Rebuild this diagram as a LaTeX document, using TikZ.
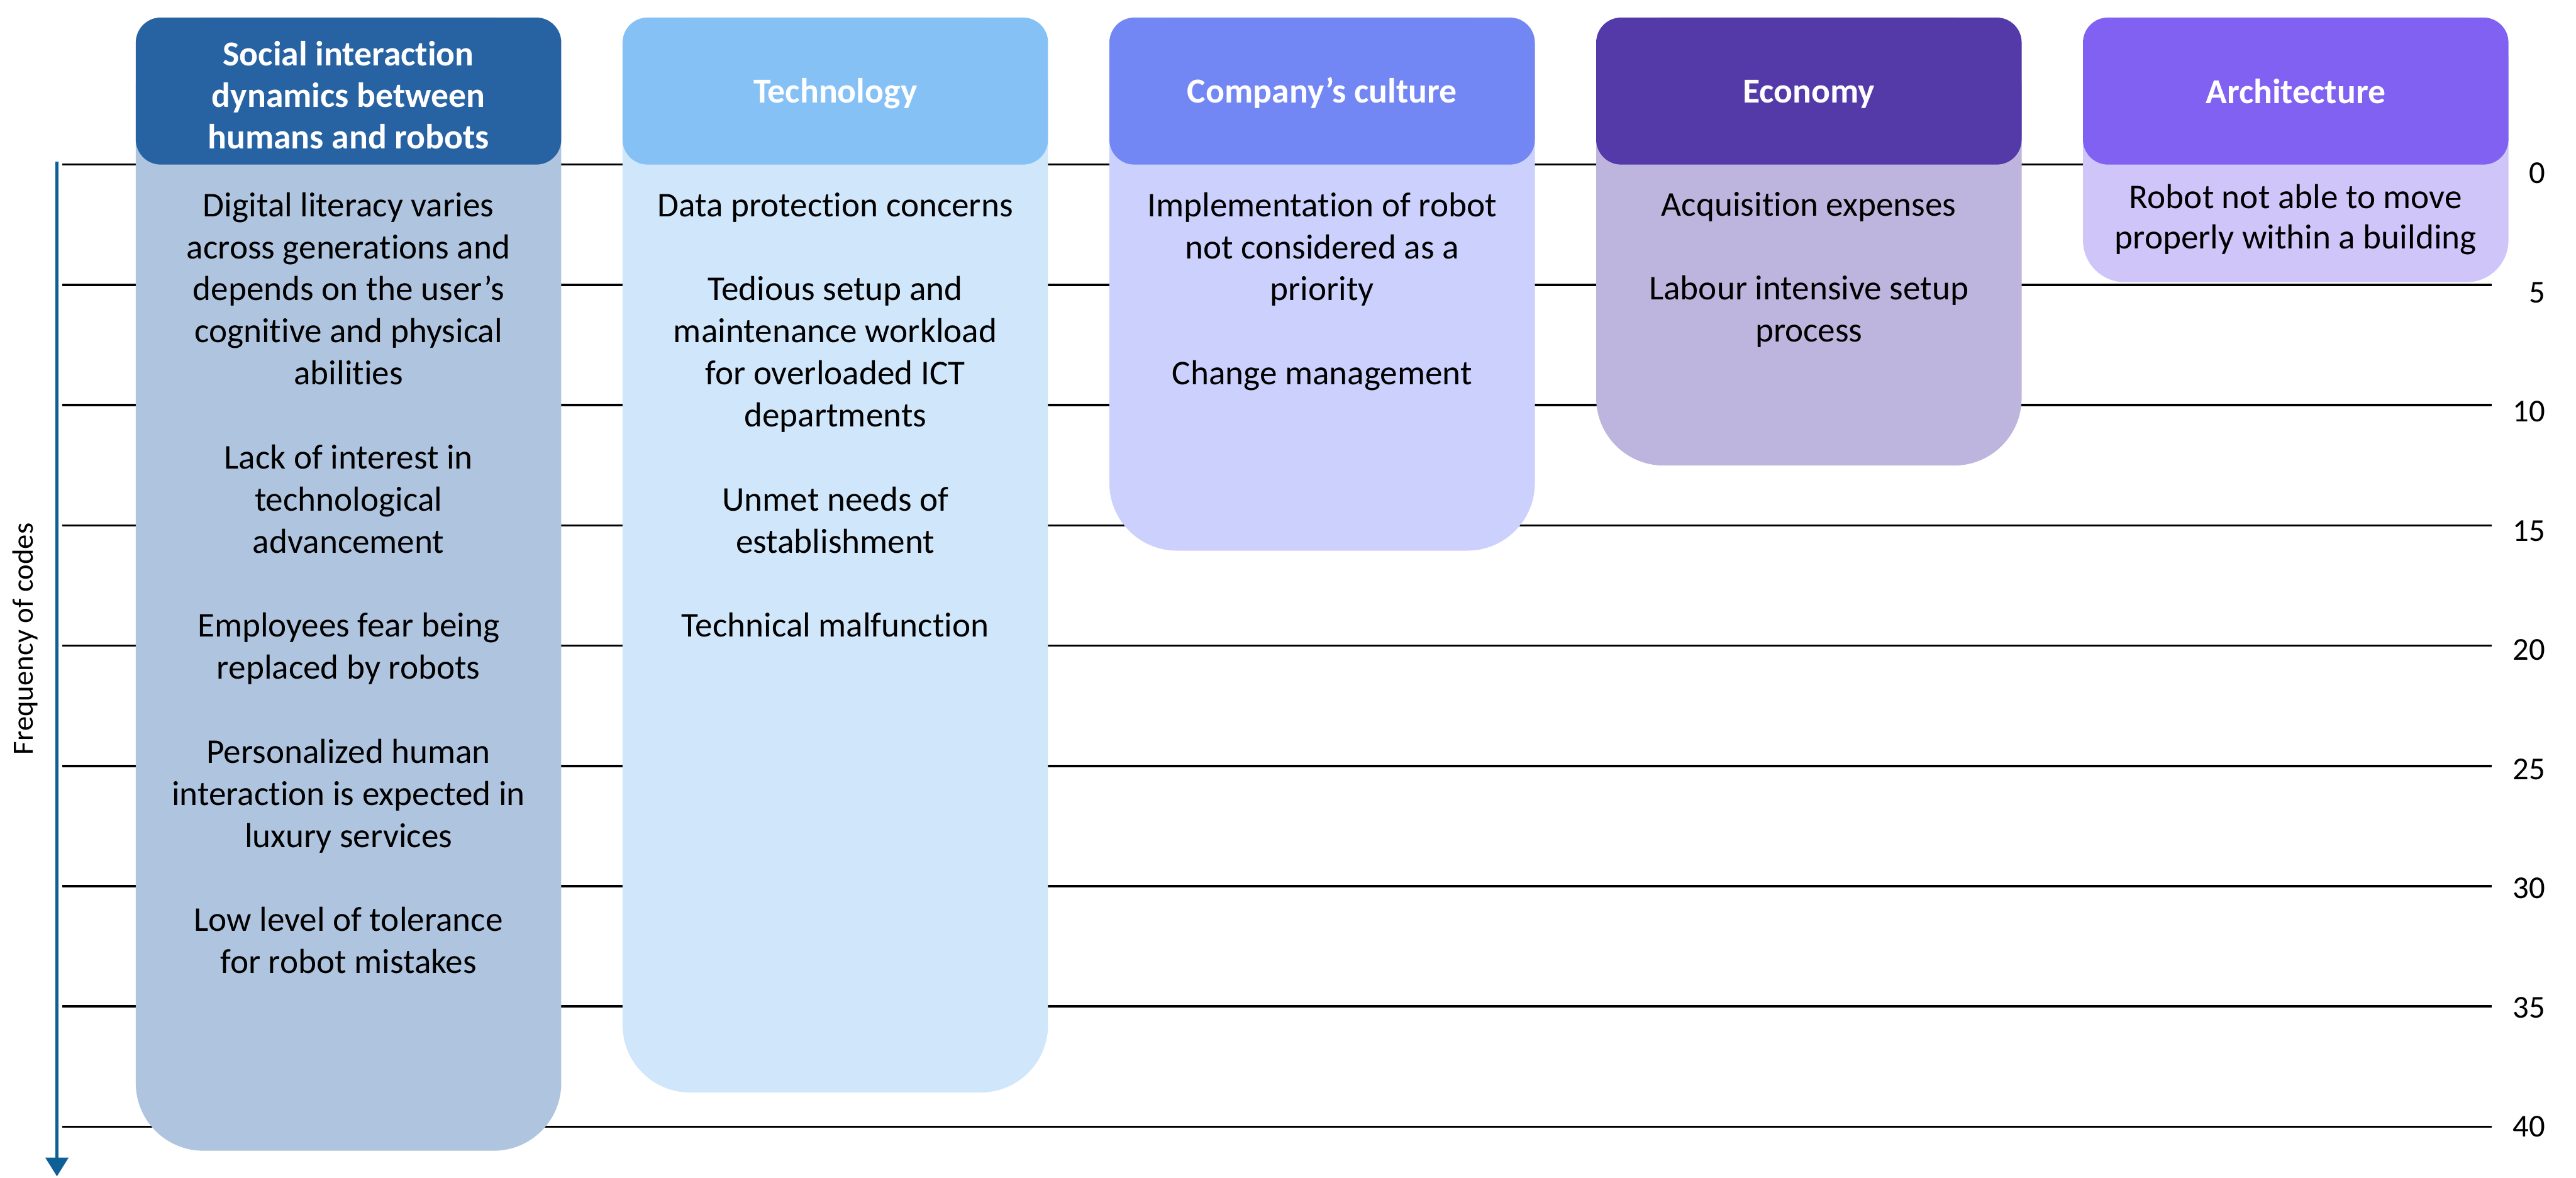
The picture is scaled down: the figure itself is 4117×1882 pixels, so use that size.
\documentclass[tikz,border=0pt]{standalone}
\usepackage{fontspec}
\setmainfont{Carlito}[Ligatures={NoCommon,NoContextual}]
\usetikzlibrary{arrows.meta}
\definecolor{hdA}{HTML}{2763A3}
\definecolor{bdA}{HTML}{AFC4DE}
\definecolor{hdB}{HTML}{85C1F5}
\definecolor{bdB}{HTML}{D0E6FA}
\definecolor{hdC}{HTML}{7387F4}
\definecolor{bdC}{HTML}{CBD1FC}
\definecolor{hdD}{HTML}{5439A8}
\definecolor{bdD}{HTML}{BDB5DD}
\definecolor{hdE}{HTML}{8061F2}
\definecolor{bdE}{HTML}{D0C5F9}
\definecolor{axisblue}{HTML}{0F5F97}

% one line of body text per entry: index/text, baselines spaced evenly
\newcommand\textcolumn[5]{%
  \foreach \j/\t in {#5} {
    \node[bodytext] (#1-\j) at (#2, {#3+#4*\j}) {\t};
  }%
}

\begin{document}
\begin{tikzpicture}[x=1pt,y=-1pt,
  gridline/.style={line width=3.5pt, black},
  ticklabel/.style={anchor=east, inner sep=0pt, font=\fontsize{51}{60}\selectfont},
  headbox/.style={rectangle, rounded corners=40pt, inner sep=0pt,
    minimum width=680pt, minimum height=235pt},
  headtext/.style={anchor=base, inner sep=0pt, text=white,
    font=\fontsize{56}{66}\selectfont\bfseries},
  bodytext/.style={anchor=base, inner sep=0pt, font=\fontsize{55.5}{66}\selectfont},
  axisline/.style={line width=5pt, axisblue, -{Triangle[width=36pt,length=30pt]}},
]
\useasboundingbox (0,0) rectangle (4117,1882);

% horizontal scale lines with their values
\foreach \k [count=\i from 0] in {0,5,...,40} {
  \pgfmathsetmacro{\yy}{263+192.2*\i}
  \coordinate (gl\i) at (100,\yy);
  \coordinate (gr\i) at (3982,\yy);
  \draw[gridline] (gl\i) -- (gr\i);
  \pgfmathsetmacro{\ty}{\yy+14-1.75*\i}
  \node[ticklabel] (tick\i) at (4068,\ty) {\k};
}

% vertical axis
\coordinate (ytop) at (91,258);
\coordinate (ybot) at (91,1880);
\draw[axisline] (ytop) -- (ybot);
\node[rotate=90, inner sep=0pt, font=\fontsize{47}{56}\selectfont] (ylabel) at (40,1021) {Frequency of codes};

% column bodies
\fill[bdA, rounded corners=108pt] (217,28) rectangle (897,1839);
\fill[bdB, rounded corners=108pt] (995,28) rectangle (1675,1746);
\fill[bdC, rounded corners=108pt] (1773,28) rectangle (2453,880);
\fill[bdD, rounded corners=108pt] (2551,28) rectangle (3231,744);
\fill[bdE, rounded corners=67pt] (3329,28) rectangle (4009,451);

% column headers
\node[headbox, fill=hdA] (hA) at (557,145.5) {};
\node[headbox, fill=hdB] (hB) at (1335,145.5) {};
\node[headbox, fill=hdC] (hC) at (2113,145.5) {};
\node[headbox, fill=hdD] (hD) at (2891,145.5) {};
\node[headbox, fill=hdE] (hE) at (3669,145.5) {};

\node[headtext] (hA-0) at (557,105) {Social interaction};
\node[headtext] (hA-1) at (557,171.5) {dynamics between};
\node[headtext] (hA-2) at (557,238) {humans and robots};
\node[headtext] (hB-0) at (1335,164) {Technology};
\node[headtext] (hC-0) at (2113,164) {Company’s culture};
\node[headtext] (hD-0) at (2891,164) {Economy};
\node[headtext] (hE-0) at (3669,165) {Architecture};

% column entries
\textcolumn{tA}{557}{346}{67.2}{0/Digital literacy varies, 1/across generations and,
  2/depends on the user’s, 3/cognitive and physical, 4/abilities,
  6/Lack of interest in, 7/technological, 8/advancement,
  10/Employees fear being, 11/replaced by robots,
  13/Personalized human, 14/interaction is expected in, 15/luxury services,
  17/Low level of tolerance, 18/for robot mistakes}
\textcolumn{tB}{1335}{346}{67.2}{0/Data protection concerns,
  2/Tedious setup and, 3/maintenance workload, 4/for overloaded ICT, 5/departments,
  7/Unmet needs of, 8/establishment,
  10/Technical malfunction}
\textcolumn{tC}{2113}{346}{67.2}{0/Implementation of robot, 1/not considered as a, 2/priority,
  4/Change management}
\textcolumn{tD}{2891}{345}{67.2}{0/Acquisition expenses,
  2/Labour intensive setup, 3/process}
\textcolumn{tE}{3669}{333}{64.7}{0/Robot not able to move, 1/properly within a building}
\end{tikzpicture}
\end{document}
